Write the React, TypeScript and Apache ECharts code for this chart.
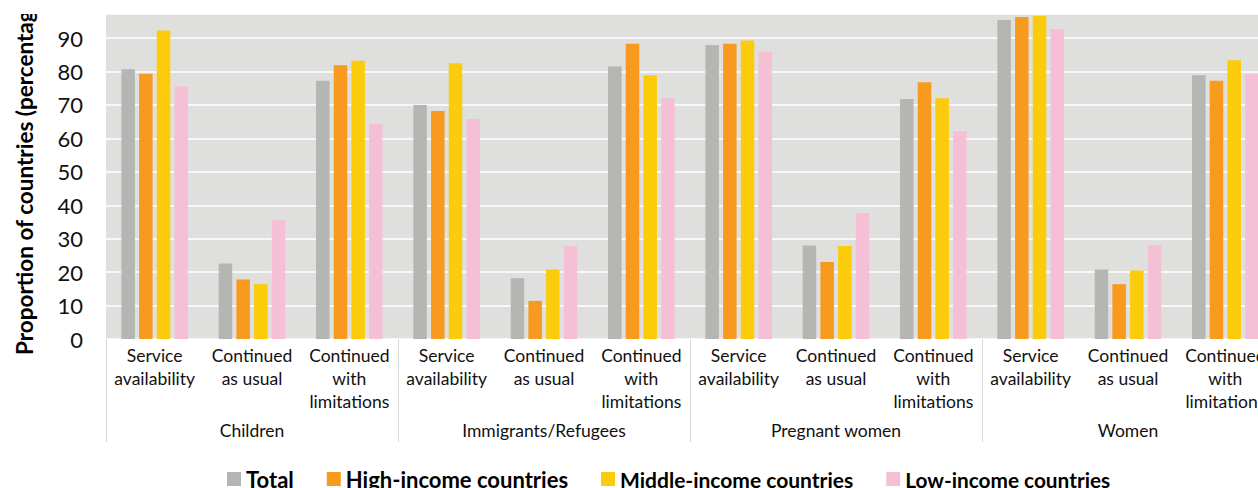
import React, { useEffect, useRef } from "react";
import * as echarts from "echarts";

const categories = [
  "Service\navailability", "Continued\nas usual", "Continued\nwith\nlimitations",
  "Service\navailability", "Continued\nas usual", "Continued\nwith\nlimitations",
  "Service\navailability", "Continued\nas usual", "Continued\nwith\nlimitations",
  "Service\navailability", "Continued\nas usual", "Continued\nwith\nlimitations",
];
const groups = ["Children", "Immigrants/Refugees", "Pregnant women", "Women"];

const total = [80.7, 22.6, 77.2, 70.0, 18.2, 81.5, 87.9, 28.0, 71.8, 95.4, 20.8, 78.9];
const highIncome = [79.3, 17.8, 81.9, 68.2, 11.4, 88.3, 88.3, 23.0, 76.8, 96.3, 16.4, 77.2];
const middleIncome = [92.3, 16.4, 83.2, 82.5, 20.8, 78.9, 89.3, 27.8, 72.0, 96.6, 20.5, 83.4];
const lowIncome = [75.5, 35.5, 64.3, 65.8, 27.8, 72.0, 85.9, 37.7, 62.1, 92.7, 28.1, 79.2];

const seriesNames = ["Total", "High-income countries", "Middle-income countries", "Low-income countries"];
const colors = ["#B4B6B3", "#F79A1E", "#FCCB0B", "#F5C0D5"];
const legendFontSizes = [22, 22, 21, 20.8];
const yTicks = [0, 10, 20, 30, 40, 50, 60, 70, 80, 90];

export default function App() {
  const ref = useRef<HTMLDivElement>(null);
  useEffect(() => {
    const chart = echarts.init(ref.current!, null, { renderer: "svg" });
    const font = "Lato";
    const data = [total, highIncome, middleIncome, lowIncome];
    chart.setOption({
      animation: false,
      grid: {
        left: 106, top: 14, bottom: 149, width: 1168,
        outerBoundsMode: "none", containLabel: false,
        show: true, backgroundColor: "#DFE0DE", borderWidth: 0,
      },
      legend: {
        left: 222, top: 463,
        itemWidth: 14, itemHeight: 14, itemGap: 33,
        icon: "rect",
        textStyle: { fontFamily: font, fontWeight: "bold", fontSize: 22, color: "#000" },
        data: seriesNames.map((n, i) => ({ name: n, textStyle: { fontSize: legendFontSizes[i] } })),
      },
      xAxis: [
        {
          type: "category", data: categories, gridIndex: 0, position: "bottom",
          axisLine: { show: false }, axisTick: { show: false },
          axisLabel: { interval: 0, fontFamily: font, fontSize: 17.5, lineHeight: 23, color: "#111", margin: 5 },
        },
        {
          type: "category", data: groups, gridIndex: 0, position: "bottom",
          axisLine: { show: false },
          axisTick: { show: true, length: 103, lineStyle: { color: "#D9D9D9", width: 1 } },
          axisLabel: { interval: 0, fontFamily: font, fontSize: 17.5, lineHeight: 20, color: "#111", margin: 81 },
        },
      ],
      yAxis: {
        type: "value", min: 0, max: 97.2, interval: 10,
        axisLine: { show: false }, axisTick: { show: false },
        splitLine: { lineStyle: { color: "#FFFFFF", width: 1.5 } },
        axisLabel: {
          fontFamily: font, fontSize: 22, color: "#111", margin: 23,
          formatter: (v: number) => (yTicks.includes(Math.round(v * 10) / 10) ? String(v) : ""),
        },
      },
      series: data.map((d, i) => ({
        name: seriesNames[i], type: "bar", xAxisIndex: 0, data: d,
        barWidth: 13.5, barGap: "31%",
        itemStyle: { color: colors[i] },
      })),
      graphic: [
        {
          type: "text", x: 24, y: 355, rotation: Math.PI / 2,
          style: {
            text: "Proportion of countries (percentage)",
            font: `bold 22.5px ${font}`, fill: "#000",
            align: "left", verticalAlign: "middle",
          },
        },
        { type: "rect", shape: { x: 0, y: 0, width: 60, height: 14 }, style: { fill: "#fff" }, z: 100 },
      ],
    });
    return () => chart.dispose();
  }, []);
  return <div ref={ref} style={{ position: "absolute", left: 0, top: 0, width: 1258, height: 488 }} />;
}
